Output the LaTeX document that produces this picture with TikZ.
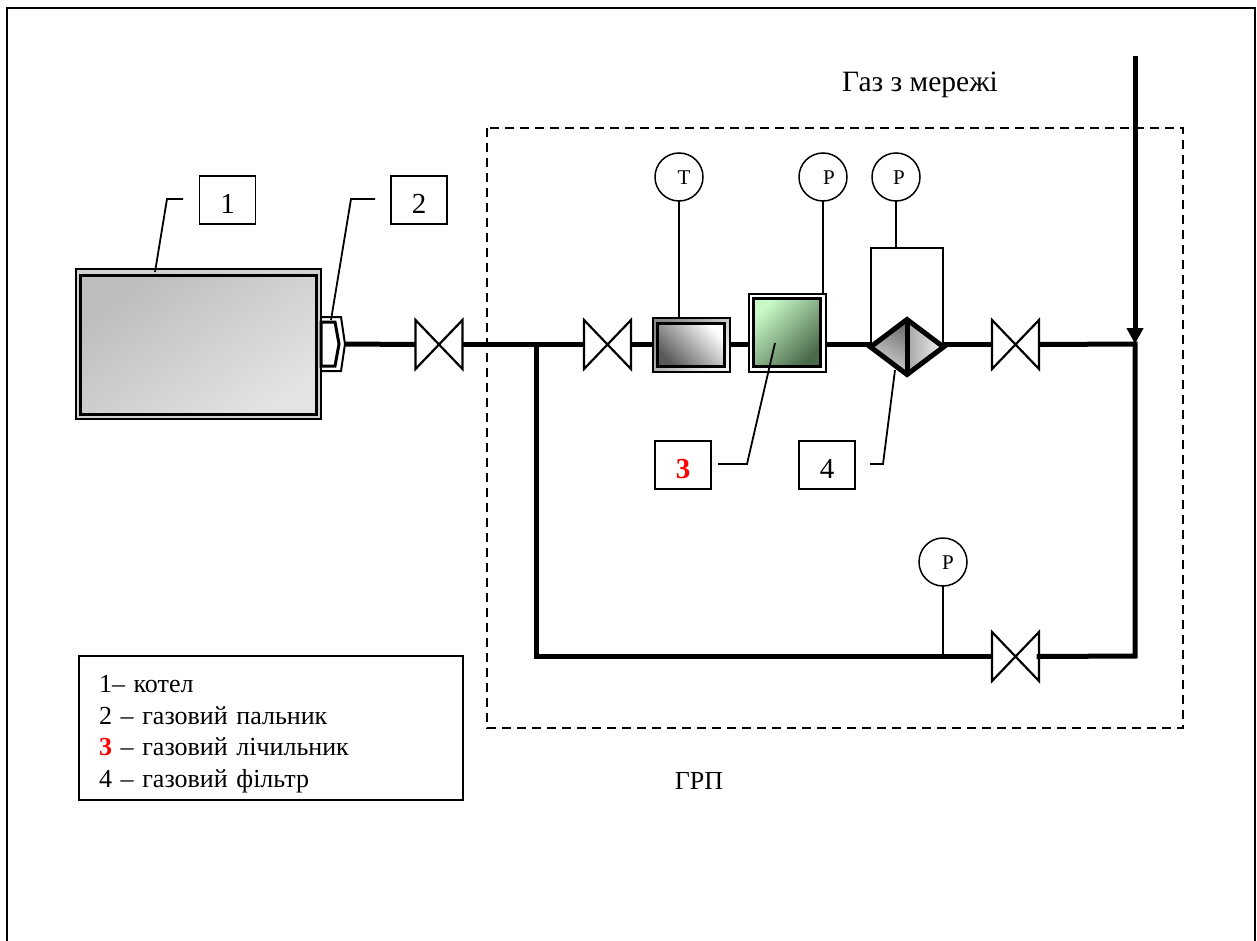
\documentclass[tikz,border=0pt]{standalone}
\usepackage{fontspec}
\setmainfont{Liberation Serif}
\usetikzlibrary{
  shapes.geometric,
  arrows.meta,
}
\tikzset{
  pipe/.style={line width=5pt},
  thin line/.style={line width=1.8pt},
  valve/.style={minimum width=47pt, minimum height=49pt, inner sep=0pt, outer sep=0pt},
  gauge/.style={circle, draw, line width=1.5pt, minimum size=48pt, inner sep=0pt, outer sep=0pt},
  gaugetext/.style={font=\fontsize{21}{21}\selectfont},
  tagbox/.style={draw, line width=1.5pt, minimum width=56pt, minimum height=48pt, inner sep=0pt, outer sep=0pt, text height=27pt, text depth=0pt, font=\fontsize{29}{31}\selectfont},
  casing/.style={draw, line width=2pt, inner sep=0pt, outer sep=0pt},
  core/.style={draw, line width=3pt, inner sep=0pt, outer sep=0pt},
  caption/.style={font=\fontsize{26}{31}\selectfont},
}
\begin{document}
\begin{tikzpicture}[x=1pt, y=-1pt]
\useasboundingbox (0,0) rectangle (1257,941);
\draw[line width=2pt] (7,941) -- (7,8) -- (1255,8) -- (1255,941);
\draw[line width=1.5pt, dash pattern=on 9pt off 6pt] (487,128) rectangle (1183,728);
\node[caption, font=\fontsize{29.5}{31}\selectfont] (gasnet) at (920,85) {Газ з мережі};
\node[caption] (grp) at (699,781) {ГРП};

\node[casing, fill=black!18, minimum width=245pt, minimum height=150pt] (boiler) at (198.5,344) {};
\node[core, top color=black!26, bottom color=black!11, shading angle=35, minimum width=236pt, minimum height=139pt] (boilercore) at (198.5,344.5) {};
\draw[line width=2pt] (321,317) -- (341,317) -- (345,344) -- (341,371) -- (321,371);
\draw[line width=3pt] (321,322) -- (335,322) -- (339,344) -- (335,366) -- (321,366) -- cycle;
\coordinate (burner) at (345,344);
\coordinate (burnertop) at (331,320);

\node[valve] (valveA) at (439,344.5) {};
\node[valve] (valveB) at (607.5,344.5) {};
\node[valve] (valveC) at (1015.5,344.5) {};
\node[valve] (valveD) at (1015.5,656.5) {};
\foreach \k in {valveA,valveB,valveC,valveD} {
  \draw[line width=2.2pt] (\k.north west) -- (\k.south east) -- (\k.north east) -- (\k.south west) -- cycle;
}

\node[casing, top color=black!45, bottom color=black!5, shading angle=45, minimum width=77pt, minimum height=54pt] (tempcase) at (691,344.5) {};
\node[core, top color=white, bottom color=black!65, shading angle=-45, minimum width=67pt, minimum height=43pt] (tempcore) at (691,344.5) {};
\node[casing, fill=white, minimum width=77pt, minimum height=78pt] (meter) at (787,332.5) {};
\node[core, top color={rgb,255:red,200;green,250;blue,200}, bottom color={rgb,255:red,75;green,105;blue,75}, shading angle=45, minimum width=67pt, minimum height=68pt] (metercore) at (787,332.5) {};

\node[diamond, aspect=1.33, minimum width=73pt, minimum height=55pt, inner sep=0pt, outer sep=0pt] (filter) at (907,347) {};
\shade[top color=black!55, bottom color=black!15, shading angle=-30] (filter.north) -- (filter.west) -- (filter.south) -- cycle;
\shade[left color=black!35, right color=black!5] (filter.north) -- (filter.east) -- (filter.south) -- cycle;
\draw[line width=5pt] (filter.north) -- (filter.east) -- (filter.south) -- (filter.west) -- cycle;
\draw[line width=5pt] (filter.north) -- (filter.south);

\coordinate (inlet) at (1135,56);
\coordinate (junction) at (1135,344);
\coordinate (branch) at (536,344);
\coordinate (lowerleft) at (536,656);
\coordinate (lowerright) at (1135,656);

\draw[pipe] (burner) -- (valveA.west);
\draw[pipe] (valveA.east) -- (valveB.west);
\draw[pipe] (valveB.east) -- (tempcase.west);
\draw[pipe] (tempcase.east) -- (meter.west |- tempcase.east);
\draw[pipe] (meter.east |- tempcase.east) -- (filter.west |- tempcase.east);
\draw[pipe] (filter.east |- tempcase.east) -- (valveC.west);
\draw[pipe] (valveC.east) -- (junction);
\draw[pipe, -{Triangle[length=16pt, width=16pt]}] (inlet) -- (junction);
\draw[pipe, line cap=rect] (junction) -- (lowerright) -- (valveD.east);
\draw[pipe] (lowerleft -| valveD.west) -- (lowerleft) -- (branch);

\node[gauge] (gaugeT) at (679,177) {};
\node[gauge] (gaugeP) at (823,177) {};
\node[gauge] (gaugeF) at (896,177) {};
\node[gauge] (gaugeL) at (943,562) {};
\node[gaugetext] (textT) at (684,178) {Т};
\node[gaugetext] (textP) at (829,178) {Р};
\node[gaugetext] (textF) at (899,178) {Р};
\node[gaugetext] (textL) at (948,563) {Р};
\draw[thin line] (gaugeT) -- (tempcase.north -| gaugeT);
\draw[thin line] (gaugeP) -- (meter.north -| gaugeP);
\draw[thin line] (gaugeF) -- (gaugeF |- 0,248);
\draw[thin line] (871,344) -- (871,248) -- (943,248) -- (943,344);
\draw[thin line] (gaugeL) -- (gaugeL |- lowerleft);

\node[tagbox] (tagA) at (227.5,200) {1};
\node[tagbox] (tagB) at (419,200) {2};
\node[tagbox, text=red, font=\fontsize{29}{31}\selectfont\bfseries] (tagC) at (683,465) {3};
\node[tagbox] (tagD) at (827,465) {4};
\draw[thin line] (183,199) -- (167,199) -- (155,272);
\draw[thin line] (375,199) -- (351,199) -- (burnertop);
\draw[thin line] (718,464) -- (747,464) -- (775,343);
\draw[thin line] (870,464) -- (883,464) -- (895,370);

\node[draw, line width=1.5pt, text width=344pt, inner xsep=20pt, inner ysep=0pt, minimum height=144pt, align=left, outer sep=0pt, font=\fontsize{26}{31.5}\selectfont] (legend) at (271,728) {\rule{0pt}{30pt}1– котел\\2 – газовий пальник\\\textcolor{red}{\textbf{3}} – газовий лічильник\\4 – газовий фільтр};
\end{tikzpicture}
\end{document}
